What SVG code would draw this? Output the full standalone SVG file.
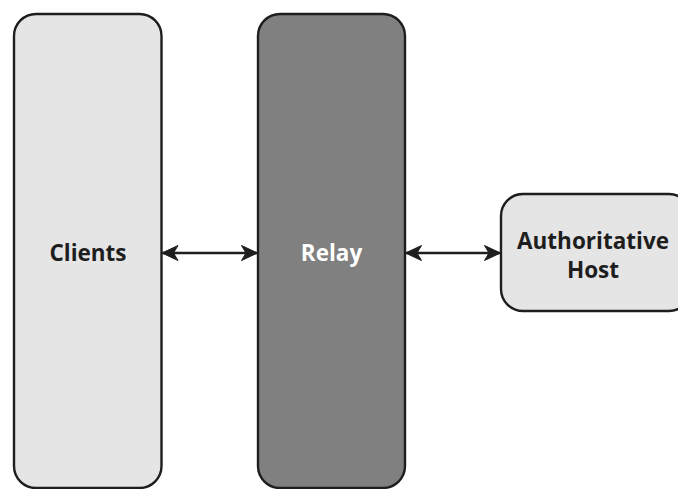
<svg xmlns="http://www.w3.org/2000/svg" width="678" height="489" viewBox="0 0 678 489">
  <style>
    .box { stroke: #1e1e1e; stroke-width: 2.4; }
    .light { fill: #e5e5e5; }
    .dark { fill: #808080; }
    .label { font-family: "Open Sans", "DejaVu Sans", sans-serif; font-weight: 700; font-size: 22.5px; text-anchor: middle; dominant-baseline: central; }
    .edge { stroke: #1e1e1e; stroke-width: 2.4; fill: none; marker-start: url(#head); marker-end: url(#head); }
  </style>
  <defs>
    <marker id="head" viewBox="0 0 17 16" refX="16" refY="8" markerWidth="17" markerHeight="16" markerUnits="userSpaceOnUse" orient="auto-start-reverse">
      <path d="M0.5,0.5 L16.5,8 L0.5,15.5 L5,8 Z" fill="#1e1e1e" stroke="#1e1e1e" stroke-width="1" stroke-linejoin="round"/>
    </marker>
  </defs>
  <rect width="678" height="489" fill="#ffffff"/>
  <g id="clients">
    <rect class="box light" x="14" y="14" width="147.5" height="474" rx="22"/>
    <text class="label" x="88" y="252" fill="#1e1e1e">Clients</text>
  </g>
  <g id="relay">
    <rect class="box dark" x="258" y="14" width="147" height="474" rx="22"/>
    <text class="label" x="331.5" y="252" fill="#ffffff">Relay</text>
  </g>
  <g id="host">
    <rect class="box light" x="501" y="194" width="190" height="117" rx="22"/>
    <text class="label" x="593" y="240" fill="#1e1e1e">Authoritative</text>
    <text class="label" x="593" y="269" fill="#1e1e1e">Host</text>
  </g>
  <g id="connectors">
    <line class="edge" x1="162.5" y1="253" x2="257" y2="253"/>
    <line class="edge" x1="406" y1="253" x2="500" y2="253"/>
  </g>
</svg>
